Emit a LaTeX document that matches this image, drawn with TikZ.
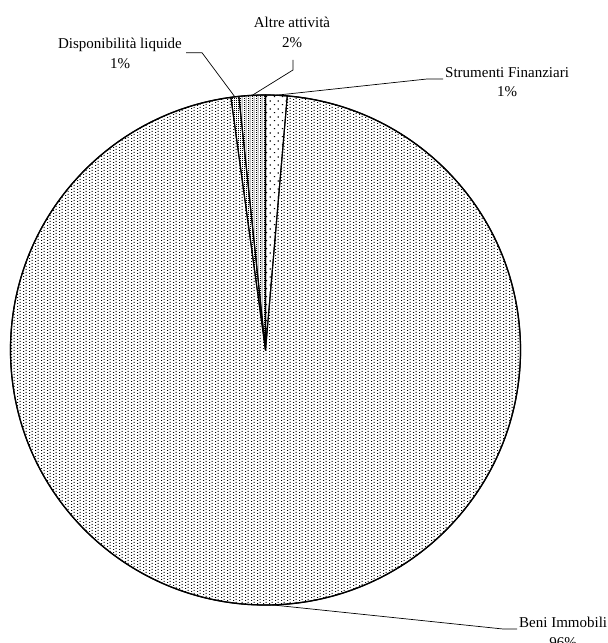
\documentclass[tikz,border=0pt]{standalone}
\usepackage{fontspec}
\setmainfont{Liberation Serif}
\usetikzlibrary{patterns}
\pgfdeclarepatternformonly{finedots}{\pgfqpoint{0pt}{0pt}}{\pgfqpoint{6pt}{3pt}}{\pgfqpoint{6pt}{3pt}}{%
  \pgfpathrectangle{\pgfqpoint{0pt}{0pt}}{\pgfqpoint{1.2pt}{1.2pt}}%
  \pgfpathrectangle{\pgfqpoint{3pt}{1.5pt}}{\pgfqpoint{1.2pt}{1.2pt}}\pgfusepath{fill}}
\pgfdeclarepatternformonly{sparsedots}{\pgfqpoint{0pt}{0pt}}{\pgfqpoint{8pt}{8pt}}{\pgfqpoint{8pt}{8pt}}{%
  \pgfpathrectangle{\pgfqpoint{2pt}{2pt}}{\pgfqpoint{1.3pt}{1.3pt}}%
  \pgfpathrectangle{\pgfqpoint{6pt}{6pt}}{\pgfqpoint{1.3pt}{1.3pt}}\pgfusepath{fill}}
\pgfdeclarepatternformonly{weavedots}{\pgfqpoint{0pt}{0pt}}{\pgfqpoint{4pt}{2pt}}{\pgfqpoint{4pt}{2pt}}{%
  \pgfpathrectangle{\pgfqpoint{0pt}{0pt}}{\pgfqpoint{1.2pt}{1.2pt}}%
  \pgfpathrectangle{\pgfqpoint{2pt}{1pt}}{\pgfqpoint{1.2pt}{1.2pt}}\pgfusepath{fill}}
\pgfdeclarepatternformonly{densecheck}{\pgfqpoint{0pt}{0pt}}{\pgfqpoint{2pt}{2pt}}{\pgfqpoint{2pt}{2pt}}{%
  \pgfpathrectangle{\pgfqpoint{0pt}{0pt}}{\pgfqpoint{1.4pt}{1.4pt}}\pgfusepath{fill}}
\tikzset{
  slice/.style={draw=black, line width=1.1pt, line join=round},
  leader/.style={draw=black, line width=0.7pt},
  lbl/.style={inner sep=0pt, align=center, font=\fontsize{15}{19.5}\selectfont},
}
\begin{document}
\begin{tikzpicture}[x=1pt,y=1pt]
\useasboundingbox (0,0) rectangle (608,643);
\begin{scope}[shift={(265.5,293)}]
  \coordinate (c) at (0,0);
  \filldraw[slice, pattern=finedots] (c) -- (97.8:255) arc[start angle=97.8, end angle=445.1, radius=255] -- cycle;
  \filldraw[slice, pattern=sparsedots] (c) -- (85.1:255) arc[start angle=85.1, end angle=90, radius=255] -- cycle;
  \filldraw[slice, pattern=weavedots] (c) -- (90:255) arc[start angle=90, end angle=96, radius=255] -- cycle;
  \filldraw[slice, pattern=densecheck] (c) -- (96:255) arc[start angle=96, end angle=97.8, radius=255] -- cycle;
  \draw[line width=1.3pt] (c) circle[radius=255];
  \coordinate (mBeni) at (271.5:255);
  \coordinate (mStr) at (87.6:255);
  \coordinate (mAlt) at (93:255);
  \coordinate (mDisp) at (96.9:255);
\end{scope}
% labels
\node[lbl, anchor=north] (tAlt) at (292,626) {Altre attività\\2\%};
\node[lbl, anchor=north] (tDisp) at (120,605) {Disponibilità liquide\\1\%};
\node[lbl, anchor=north west] (tStr) at (445,576) {Strumenti Finanziari\\1\%};
\node[lbl, anchor=north west] (tBeni) at (519,26) {Beni Immobili\\96\%};
% leader lines
\coordinate (kAlt) at (293,573);
\coordinate (eAlt) at (293,583);
\draw[leader] (mAlt) -- (kAlt) -- (eAlt);
\coordinate (kDisp) at (202,590.3);
\coordinate (eDisp) at (186,590.3);
\draw[leader] (mDisp) -- (kDisp) -- (eDisp);
\coordinate (kStr) at (427,564);
\coordinate (eStr) at (443,564);
\draw[leader] (mStr) -- (kStr) -- (eStr);
\coordinate (kBeni) at (503,14);
\coordinate (eBeni) at (517,14);
\draw[leader] (mBeni) -- (kBeni) -- (eBeni);
\end{tikzpicture}
\end{document}
